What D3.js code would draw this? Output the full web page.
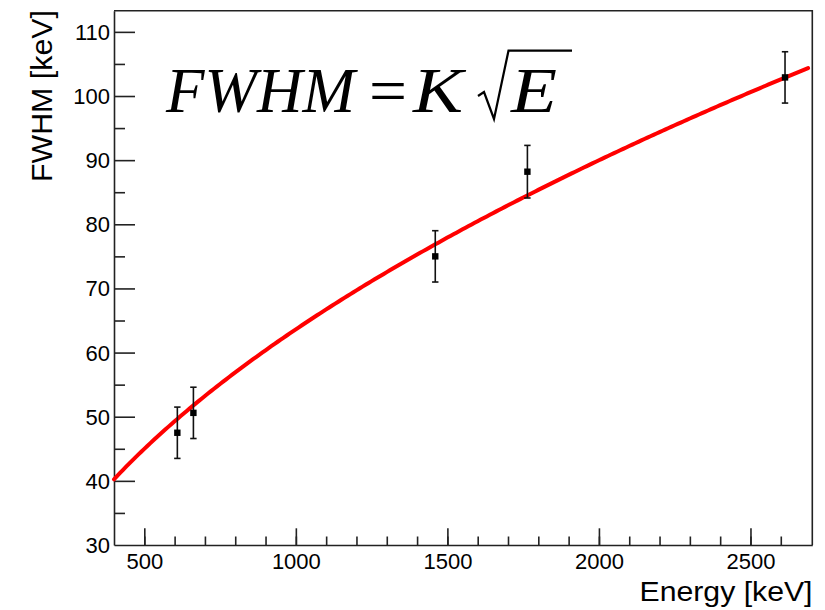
<!DOCTYPE html>
<html>
<head>
<meta charset="utf-8">
<script src="https://cdn.jsdelivr.net/npm/d3@7"></script>
<style>
  html, body { margin: 0; padding: 0; background: #fff; }
  svg { display: block; }
</style>
</head>
<body>
<svg id="chart" width="825" height="610"></svg>
<script>
// Measured gamma lines: energy (keV), FWHM (keV) and its error (keV)
const energies = [609, 662, 1460, 1764, 2614];
const fwhm     = [47.5, 50.6, 75.0, 88.2, 102.9];
const fwhmErr  = [4.0, 4.0, 4.0, 4.1, 4.0];

// Fitted resolution model FWHM = K * sqrt(E)
const K = 2.012;
const fitRange = [400, 2690];

// Axis ticks
const xMajorTicks = [500, 1000, 1500, 2000, 2500];
const xMinorTicks = [500, 600, 700, 800, 900, 1000, 1100, 1200, 1300, 1400, 1500, 1600, 1700,
                     1800, 1900, 2000, 2100, 2200, 2300, 2400, 2500, 2600];
const yMajorTicks = [30, 40, 50, 60, 70, 80, 90, 100, 110];
const yMinorTicks = [35, 45, 55, 65, 75, 85, 95, 105];

const svg = d3.select("#chart");
const frame = { left: 114, right: 812.3, top: 10.7, bottom: 545 };

const x = d3.scaleLinear().domain([400, 2704]).range([frame.left, frame.right]);
const y = d3.scaleLinear().domain([30, 113.3]).range([frame.bottom, frame.top]);

const axisColor = "#222";
const sans = "'Liberation Sans', Arial, Helvetica, sans-serif";

// Frame (top and right edges)
svg.append("path")
  .attr("d", `M${frame.left},${frame.top}H${frame.right}V${frame.bottom}`)
  .attr("fill", "none").attr("stroke", axisColor).attr("stroke-width", 1.6);

// Y axis: minor then major ticks, pointing into the frame
svg.append("g").attr("transform", `translate(${frame.left},0)`)
  .call(d3.axisLeft(y).tickValues(yMinorTicks).tickSize(-11).tickFormat(""))
  .call(g => g.select(".domain").remove())
  .call(g => g.selectAll("line").attr("stroke", axisColor).attr("stroke-width", 1.6));

const yAxis = svg.append("g").attr("transform", `translate(${frame.left},0)`)
  .call(d3.axisLeft(y).tickValues(yMajorTicks).tickFormat(d3.format("d"))
    .tickSizeInner(-21).tickSizeOuter(0).tickPadding(4))
  .call(g => g.select(".domain").attr("stroke", axisColor).attr("stroke-width", 1.6))
  .call(g => g.selectAll("line").attr("stroke", axisColor).attr("stroke-width", 1.6));
yAxis.selectAll("text")
  .attr("font-family", sans).attr("font-size", 22).attr("fill", "#000").attr("dy", "0.34em");
yAxis.selectAll(".tick").filter(d => d === 30).select("line").remove();

// X axis: minor then major ticks, pointing up into the frame
svg.append("g").attr("transform", `translate(0,${frame.bottom})`)
  .call(d3.axisBottom(x).tickValues(xMinorTicks).tickSize(-8.5).tickFormat(""))
  .call(g => g.select(".domain").remove())
  .call(g => g.selectAll("line").attr("stroke", axisColor).attr("stroke-width", 1.6));

const xAxis = svg.append("g").attr("transform", `translate(0,${frame.bottom})`)
  .call(d3.axisBottom(x).tickValues(xMajorTicks).tickFormat(d3.format("d"))
    .tickSizeInner(-16.7).tickSizeOuter(0).tickPadding(8))
  .call(g => g.select(".domain").attr("stroke", axisColor).attr("stroke-width", 1.6))
  .call(g => g.selectAll("line").attr("stroke", axisColor).attr("stroke-width", 1.6));
xAxis.selectAll("text")
  .attr("font-family", sans).attr("font-size", 22).attr("fill", "#000");

// Axis titles
svg.append("text")
  .attr("x", 812.5).attr("y", 601)
  .attr("text-anchor", "end")
  .attr("font-family", sans).attr("font-size", 27).attr("fill", "#000")
  .attr("textLength", 173).attr("lengthAdjust", "spacingAndGlyphs")
  .text("Energy [keV]");

svg.append("text")
  .attr("transform", "translate(52,10) rotate(-90)")
  .attr("text-anchor", "end")
  .attr("font-family", sans).attr("font-size", 30).attr("fill", "#000")
  .attr("textLength", 172).attr("lengthAdjust", "spacingAndGlyphs")
  .text("FWHM [keV]");

// Fit curve
const fitE = d3.range(fitRange[0], fitRange[1] + 1, 10);
svg.append("path")
  .datum(fitE)
  .attr("d", d3.line().x(e => x(e)).y(e => y(K * Math.sqrt(e))))
  .attr("fill", "none").attr("stroke", "#ff0000").attr("stroke-width", 4)
  .attr("stroke-linecap", "round");

// Data points with error bars
const pts = energies.map((e, i) => ({ e, v: fwhm[i], err: fwhmErr[i] }));
const pg = svg.append("g").selectAll("g").data(pts).join("g");
pg.append("line")
  .attr("x1", d => x(d.e)).attr("x2", d => x(d.e))
  .attr("y1", d => y(d.v + d.err)).attr("y2", d => y(d.v - d.err))
  .attr("stroke", "#111").attr("stroke-width", 1.6);
[1, -1].forEach(s => {
  pg.append("line")
    .attr("x1", d => x(d.e) - 3.2).attr("x2", d => x(d.e) + 3.2)
    .attr("y1", d => y(d.v + s * d.err)).attr("y2", d => y(d.v + s * d.err))
    .attr("stroke", "#111").attr("stroke-width", 1.6);
});
pg.append("rect")
  .attr("x", d => x(d.e) - 3.2).attr("y", d => y(d.v) - 3.2)
  .attr("width", 6.4).attr("height", 6.4).attr("fill", "#000");

// Formula label
const serif = "'Liberation Serif', 'Times New Roman', Times, serif";
const fy = 111.7;
const formula = svg.append("g").attr("fill", "#000").attr("font-family", serif).attr("font-size", 63);
formula.append("text").attr("x", 166).attr("y", fy).attr("font-style", "italic").text("FWHM");
formula.append("text").attr("x", 369).attr("y", fy)
  .attr("textLength", 38).attr("lengthAdjust", "spacingAndGlyphs").text("=");
formula.append("text").attr("x", 413).attr("y", fy).attr("font-style", "italic")
  .attr("textLength", 50).attr("lengthAdjust", "spacingAndGlyphs").text("K");
formula.append("path")
  .attr("d", "M478,96 L484,92 L494,119 L508.5,50.7 H572")
  .attr("fill", "none").attr("stroke", "#000").attr("stroke-width", 2.2)
  .attr("stroke-linejoin", "miter");
formula.append("text").attr("x", 511).attr("y", fy).attr("font-style", "italic")
  .attr("textLength", 46).attr("lengthAdjust", "spacingAndGlyphs").text("E");
</script>
</body>
</html>
